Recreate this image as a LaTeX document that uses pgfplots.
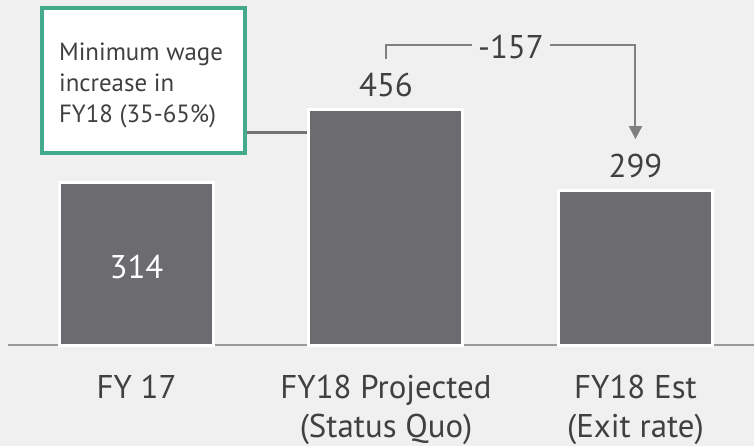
\documentclass[border=0pt]{standalone}
\usepackage{fontspec}
\setmainfont{PT Sans}
\usepackage{pgfplots}
\pgfplotsset{compat=1.18}
\usetikzlibrary{arrows.meta}
\definecolor{bg}{RGB}{240,240,240}
\definecolor{barc}{RGB}{107,107,112}
\definecolor{txt}{RGB}{64,64,64}
\definecolor{boxc}{RGB}{67,171,139}
\definecolor{linec}{RGB}{128,128,128}
\begin{document}
\begin{tikzpicture}
\fill[bg] (-8bp,-101bp) rectangle (746bp,345bp);
\path[use as bounding box] (-8bp,-101bp) rectangle (746bp,345bp);
\begin{axis}[at={(0,0)}, anchor=south west, scale only axis,
  width=746bp, height=345bp,
  xmin=-0.515, xmax=2.475, ymin=0, ymax=668.7,
  axis x line*=bottom, axis y line=none,
  x axis line style={draw=linec!80, line width=2bp, -},
  xtick={0,1,2},
  xticklabels={FY 17, {FY18 Projected\\(Status Quo)}, {FY18 Est\\(Exit rate)}},
  major tick length=0pt,
  xticklabel style={align=center, font=\fontsize{33}{39}\selectfont, text=txt,
    anchor=north, inner sep=0pt, yshift=-30bp},
  ytick=\empty,
  clip=false,
  /pgf/number format/assume math mode=true,
  ybar, bar width=154bp, bar shift=0pt,
]
% annotation box and connector
\draw[draw=linec!110, line width=3bp] (axis cs:0.435,411) -- (axis cs:0.691,411);
\draw[draw=boxc, line width=4bp, fill=white] (axis cs:-0.379,372) rectangle (axis cs:0.435,653);
\node[anchor=north west, inner sep=0pt, align=left, text=txt,
  font=\fontsize{25}{31}\selectfont] at (axis cs:-0.311,585.4)
  {Minimum wage\\increase in\\FY18 (35-65\%)};

\addplot[fill=barc, draw=white, line width=3bp,
  nodes near coords,
  nodes near coords style={text=white, font=\fontsize{33}{40}\selectfont,
    anchor=center, yshift=-84bp}]
  coordinates {(0,314)};
\addplot[fill=barc, draw=white, line width=3bp,
  nodes near coords,
  nodes near coords style={text=txt, font=\fontsize{33}{40}\selectfont,
    anchor=base, inner sep=0pt, yshift=13bp}]
  coordinates {(1,456) (2,299)};

% bracket with difference
\draw[draw=linec, line width=2bp, -{Triangle[width=13bp,length=13bp]}]
  (axis cs:1,554) |- (axis cs:2,581.5) -- (axis cs:2,399);
\node[fill=bg, inner xsep=6bp, inner ysep=2bp, text=txt, font=\fontsize{33}{40}\selectfont]
  at (axis cs:1.501,578) {-157};
\end{axis}
\end{tikzpicture}
\end{document}
